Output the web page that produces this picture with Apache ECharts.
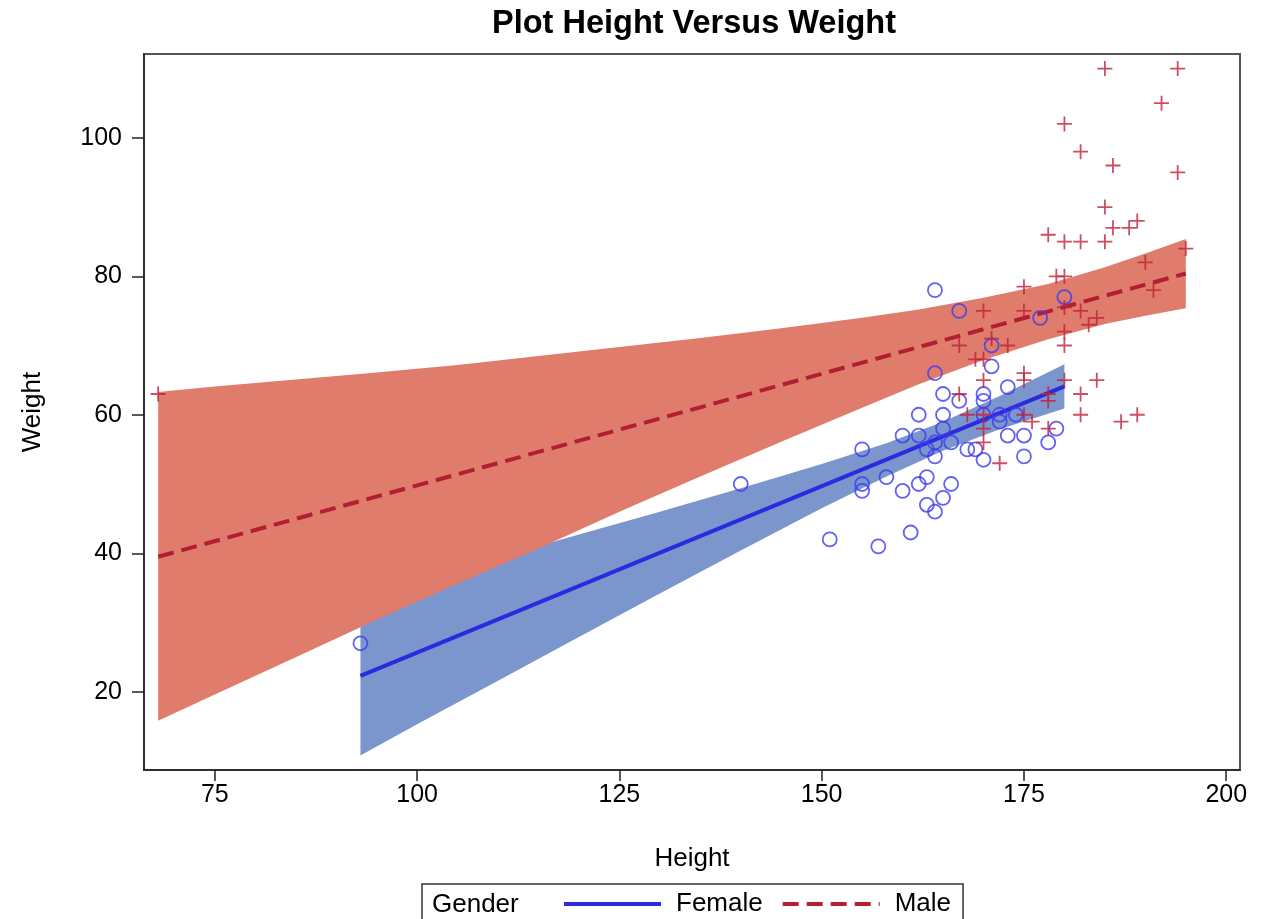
<!DOCTYPE html>
<html>
<head>
<meta charset="utf-8">
<script src="https://cdn.jsdelivr.net/npm/echarts@6/dist/echarts.min.js"></script>
<style>
  html, body { margin: 0; padding: 0; background: #fff; }
  #chart { width: 1268px; height: 919px; }
</style>
</head>
<body>
<div id="chart"></div>
<script>
// Observations: female heights / weights
const femaleHeight = [93, 164, 180, 167, 177, 171, 171, 164, 173, 165, 170, 167, 170, 162, 165, 170, 172, 174, 172, 165, 179, 160, 162, 173, 175, 164, 166, 178, 163, 168, 169, 155, 164, 170, 175, 140, 158, 163, 155, 155, 160, 162, 166, 165, 163, 164, 161, 151, 157];
const femaleWeight = [27, 78, 77, 75, 74, 70, 67, 66, 64, 63, 63, 62, 62, 60, 60, 60, 60, 60, 59, 58, 58, 57, 57, 57, 57, 56, 56, 56, 55, 55, 55, 55, 54, 53.5, 54, 50, 51, 51, 50, 49, 49, 50, 50, 48, 47, 46, 43, 42, 41];

// Observations: male heights / weights
const maleHeight = [68, 185, 194, 192, 180, 182, 186, 194, 185, 189, 186, 188, 178, 180, 182, 185, 195, 190, 179, 180, 175, 191, 175, 180, 182, 184, 183, 170, 173, 180, 180, 167, 171, 169, 170, 175, 175, 170, 180, 184, 167, 178, 182, 178, 168, 170, 175, 182, 189, 176, 187, 170, 178, 170, 172];
const maleWeight = [63, 110, 110, 105, 102, 98, 96, 95, 90, 88, 87, 87, 86, 85, 85, 85, 84, 82, 80, 80, 78.5, 78, 75, 75.5, 75, 74, 73, 75, 70, 72, 70, 70, 71, 68, 68, 66, 65, 65, 65, 65, 63, 63, 63, 62, 60, 60, 60, 60, 60, 59, 59, 58, 58, 56, 53];

// Fitted regression lines (end points)
const femaleFitHeight = [93, 180];
const femaleFitWeight = [22.3, 64.1];
const maleFitHeight = [68, 195];
const maleFitWeight = [39.5, 80.4];

// 95% confidence limits for the mean
const femaleBandHeight = [93, 100, 110, 120, 130, 140, 150, 158, 165, 172, 180];
const femaleBandLower  = [10.8, 15.3, 21.6, 27.9, 34.2, 40.4, 46.5, 51.1, 54.8, 57.9, 60.9];
const femaleBandUpper  = [33.8, 36.1, 39.4, 42.7, 46.0, 49.4, 52.9, 55.9, 59.0, 62.7, 67.3];

const maleBandHeight = [68, 75, 85, 95, 105, 115, 125, 135, 145, 155, 162, 170, 178, 185, 190, 195];
const maleBandLower  = [15.8, 19.6, 25.0, 30.4, 35.6, 40.7, 46.0, 51.1, 56.1, 61.0, 64.4, 67.9, 70.9, 73.1, 74.3, 75.4];
const maleBandUpper  = [63.3, 64.1, 65.1, 66.1, 67.2, 68.5, 69.8, 71.1, 72.5, 74.0, 75.2, 76.9, 78.9, 81.3, 83.3, 85.4];

// Axis ticks
const xTicks = [75, 100, 125, 150, 175, 200];
const yTicks = [20, 40, 60, 80, 100];

const FONT = '"Liberation Sans", Arial, sans-serif';

function zip(a, b) { return a.map((v, i) => [v, b[i]]); }

// Draws a closed band polygon between the lower and upper limits
function bandRenderer(hs, lo, hi, color) {
  return function (params, api) {
    if (params.dataIndex !== 0) return;
    const pts = [];
    for (let i = 0; i < hs.length; i++) pts.push(api.coord([hs[i], hi[i]]));
    for (let i = hs.length - 1; i >= 0; i--) pts.push(api.coord([hs[i], lo[i]]));
    return { type: 'polygon', shape: { points: pts }, style: { fill: color } };
  };
}

const plusPath = 'path://M-1.2,-10H1.2V10H-1.2Z M-10,-1.2H10V1.2H-10Z';

const chart = echarts.init(document.getElementById('chart'), null, { renderer: 'canvas' });

chart.setOption({
  animation: false,
  backgroundColor: '#fff',
  title: {
    text: 'Plot Height Versus Weight',
    left: 689,
    textAlign: 'center',
    top: 3,
    textStyle: { fontFamily: FONT, fontSize: 32.5, fontWeight: 'bold', color: '#000' }
  },
  grid: {
    left: 144, top: 54, right: 28, bottom: 149,
    show: true, borderColor: '#555', borderWidth: 2, backgroundColor: 'transparent'
  },
  xAxis: {
    type: 'value',
    min: 66.25, max: 201.7,
    name: 'Height',
    nameLocation: 'middle',
    nameGap: 76,
    nameTextStyle: { fontFamily: FONT, fontSize: 26, color: '#000' },
    axisLine: { show: true, lineStyle: { color: '#222', width: 1.5 } },
    axisTick: { show: true, length: 11, customValues: xTicks, lineStyle: { color: '#222', width: 1.5 } },
    axisLabel: { customValues: xTicks, margin: 13, fontFamily: FONT, fontSize: 25, color: '#000' },
    splitLine: { show: false }
  },
  yAxis: {
    type: 'value',
    min: 8.7, max: 112.1,
    name: 'Weight',
    nameLocation: 'middle',
    nameRotate: 90,
    nameGap: 98,
    nameTextStyle: { fontFamily: FONT, fontSize: 26, color: '#000' },
    axisLine: { show: true, lineStyle: { color: '#222', width: 1.5 } },
    axisTick: { show: true, length: 12, customValues: yTicks, lineStyle: { color: '#222', width: 1.5 } },
    axisLabel: { customValues: yTicks, margin: 22, fontFamily: FONT, fontSize: 25, color: '#000' },
    splitLine: { show: false }
  },
  legend: {
    data: ['Female', 'Male'],
    left: 422,
    top: 884,
    orient: 'horizontal',
    padding: [7, 12, 10, 140],
    borderColor: '#333',
    borderWidth: 1.5,
    itemWidth: 97,
    itemHeight: 18,
    itemGap: 18,
    itemStyle: { opacity: 0 },
    lineStyle: { width: 4 },
    textStyle: { fontFamily: FONT, fontSize: 26, color: '#000', padding: [0, 0, 0, 10] },
    selectedMode: false
  },
  graphic: [{
    type: 'text',
    left: 432,
    top: 892,
    style: { text: 'Gender', fontFamily: FONT, fontSize: 26, fill: '#000' }
  }],
  series: [
    {
      name: 'Female CLM',
      type: 'custom',
      z: 1,
      silent: true,
      renderItem: bandRenderer(femaleBandHeight, femaleBandLower, femaleBandUpper, '#7B96CC'),
      data: femaleBandHeight.map((h, i) => [h, femaleBandLower[i], femaleBandUpper[i]]),
      encode: { x: 0, y: [1, 2] }
    },
    {
      name: 'Male CLM',
      type: 'custom',
      z: 2,
      silent: true,
      renderItem: bandRenderer(maleBandHeight, maleBandLower, maleBandUpper, '#DF7C6C'),
      data: maleBandHeight.map((h, i) => [h, maleBandLower[i], maleBandUpper[i]]),
      encode: { x: 0, y: [1, 2] }
    },
    {
      name: 'Female',
      type: 'line',
      z: 3,
      symbol: 'none',
      data: zip(femaleFitHeight, femaleFitWeight),
      lineStyle: { color: '#2B2BDD', width: 4 },
      itemStyle: { color: '#2B2BDD' }
    },
    {
      name: 'Male',
      type: 'line',
      z: 3,
      symbol: 'none',
      data: zip(maleFitHeight, maleFitWeight),
      lineStyle: { color: '#B21E33', width: 4, type: [16, 8] },
      itemStyle: { color: '#B21E33' }
    },
    {
      name: 'Female obs',
      type: 'scatter',
      z: 4,
      symbol: 'circle',
      symbolSize: 14,
      data: zip(femaleHeight, femaleWeight),
      itemStyle: { color: 'rgba(0,0,0,0)', borderColor: '#3C3CEE', borderWidth: 1.8 }
    },
    {
      name: 'Male obs',
      type: 'scatter',
      z: 4,
      symbol: plusPath,
      symbolSize: 15,
      data: zip(maleHeight, maleWeight),
      itemStyle: { color: '#C0203A' }
    }
  ]
});
</script>
</body>
</html>
